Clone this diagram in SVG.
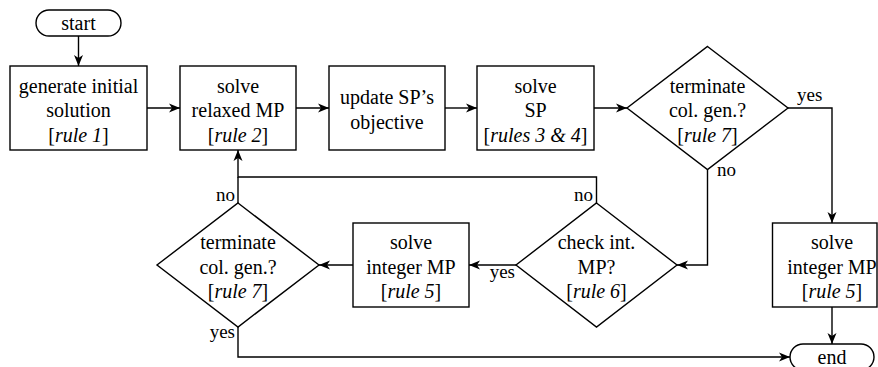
<svg xmlns="http://www.w3.org/2000/svg" width="878" height="367" viewBox="0 0 878 367">
<style>
.s{fill:#fff;stroke:#000;stroke-width:1.4}
.c{fill:none;stroke:#000;stroke-width:1.4}
.t{font-family:"Liberation Serif","Times New Roman",serif;font-size:20px;fill:#000;text-anchor:middle}
.l{font-family:"Liberation Serif","Times New Roman",serif;font-size:19px;fill:#000}
.i{font-style:italic}
</style>
<defs>
<marker id="a" markerUnits="userSpaceOnUse" markerWidth="14" markerHeight="12" viewBox="-12 -6 14 12" refX="0" refY="0" orient="auto">
<path d="M-11,-4.5 L0,0 L-11,4.5 L-8,0 z" fill="#000"/>
</marker>
</defs>
<g id="connectors">
<path class="c" d="M78.5,36 V66" marker-end="url(#a)"/>
<path class="c" d="M147,108 H180" marker-end="url(#a)"/>
<path class="c" d="M296,108 H329" marker-end="url(#a)"/>
<path class="c" d="M445,108 H477" marker-end="url(#a)"/>
<path class="c" d="M594,108 H627" marker-end="url(#a)"/>
<path class="c" d="M788,108 H832 V223" marker-end="url(#a)"/>
<path class="c" d="M707.5,169.5 V265 H677" marker-end="url(#a)"/>
<path class="c" d="M516,265 H469" marker-end="url(#a)"/>
<path class="c" d="M353,265 H319" marker-end="url(#a)"/>
<path class="c" d="M596.5,203 V177 H238 V150" marker-end="url(#a)"/>
<path class="c" d="M238,203 V177"/>
<path class="c" d="M238,327 V357 H790" marker-end="url(#a)"/>
<path class="c" d="M832,307 V344" marker-end="url(#a)"/>
<text class="l" font-family="Liberation Serif" x="797" y="101" text-anchor="start">yes</text>
<text class="l" font-family="Liberation Serif" x="717" y="176" text-anchor="start">no</text>
<text class="l" font-family="Liberation Serif" x="593" y="201" text-anchor="end">no</text>
<text class="l" font-family="Liberation Serif" x="515" y="278" text-anchor="end">yes</text>
<text class="l" font-family="Liberation Serif" x="235" y="201" text-anchor="end">no</text>
<text class="l" font-family="Liberation Serif" x="235" y="338" text-anchor="end">yes</text>
</g>
<g id="start">
<rect class="s" x="36" y="10" width="85" height="26" rx="13"/>
<text class="t" font-family="Liberation Serif" x="78.5" y="30">start</text>
</g>
<g id="gen">
<rect class="s" x="10" y="66" width="137" height="84"/>
<text class="t" font-family="Liberation Serif" x="78.5" y="92.5">generate initial</text>
<text class="t" font-family="Liberation Serif" x="78.5" y="117">solution</text>
<text class="t" font-family="Liberation Serif" x="78.5" y="141.5">[<tspan class="i">rule 1</tspan>]</text>
</g>
<g id="relaxed">
<rect class="s" x="180" y="66" width="116" height="84"/>
<text class="t" font-family="Liberation Serif" x="238" y="92.5">solve</text>
<text class="t" font-family="Liberation Serif" x="238" y="117">relaxed MP</text>
<text class="t" font-family="Liberation Serif" x="238" y="141.5">[<tspan class="i">rule 2</tspan>]</text>
</g>
<g id="update">
<rect class="s" x="329" y="66" width="116" height="84"/>
<text class="t" font-family="Liberation Serif" x="387" y="104">update SP’s</text>
<text class="t" font-family="Liberation Serif" x="387" y="128.5">objective</text>
</g>
<g id="solvesp">
<rect class="s" x="477" y="66" width="117" height="84"/>
<text class="t" font-family="Liberation Serif" x="535.5" y="92.5">solve</text>
<text class="t" font-family="Liberation Serif" x="535.5" y="117">SP</text>
<text class="t" font-family="Liberation Serif" x="535.5" y="141.5">[<tspan class="i">rules 3 &amp; 4</tspan>]</text>
</g>
<g id="term1">
<polygon class="s" points="707.5,46.5 788,108 707.5,169.5 627,108"/>
<text class="t" font-family="Liberation Serif" x="707.5" y="92.5">terminate</text>
<text class="t" font-family="Liberation Serif" x="707.5" y="117">col. gen.?</text>
<text class="t" font-family="Liberation Serif" x="707.5" y="141.5">[<tspan class="i">rule 7</tspan>]</text>
</g>
<g id="check">
<polygon class="s" points="596.5,203 677,265 596.5,327 516,265"/>
<text class="t" font-family="Liberation Serif" x="596.5" y="249">check int.</text>
<text class="t" font-family="Liberation Serif" x="596.5" y="273.5">MP?</text>
<text class="t" font-family="Liberation Serif" x="596.5" y="298">[<tspan class="i">rule 6</tspan>]</text>
</g>
<g id="intmp1">
<rect class="s" x="353" y="223" width="116" height="84"/>
<text class="t" font-family="Liberation Serif" x="411" y="249">solve</text>
<text class="t" font-family="Liberation Serif" x="411" y="273.5">integer MP</text>
<text class="t" font-family="Liberation Serif" x="411" y="298">[<tspan class="i">rule 5</tspan>]</text>
</g>
<g id="term2">
<polygon class="s" points="238,203 319,265 238,327 157,265"/>
<text class="t" font-family="Liberation Serif" x="238" y="249">terminate</text>
<text class="t" font-family="Liberation Serif" x="238" y="273.5">col. gen.?</text>
<text class="t" font-family="Liberation Serif" x="238" y="298">[<tspan class="i">rule 7</tspan>]</text>
</g>
<g id="intmp2">
<rect class="s" x="772.5" y="223" width="104.5" height="84"/>
<text class="t" font-family="Liberation Serif" x="832" y="249">solve</text>
<text class="t" font-family="Liberation Serif" x="832" y="273.5">integer MP</text>
<text class="t" font-family="Liberation Serif" x="832" y="298">[<tspan class="i">rule 5</tspan>]</text>
</g>
<g id="end">
<rect class="s" x="790" y="344" width="84" height="26" rx="13"/>
<text class="t" font-family="Liberation Serif" x="832" y="364">end</text>
</g>
</svg>
